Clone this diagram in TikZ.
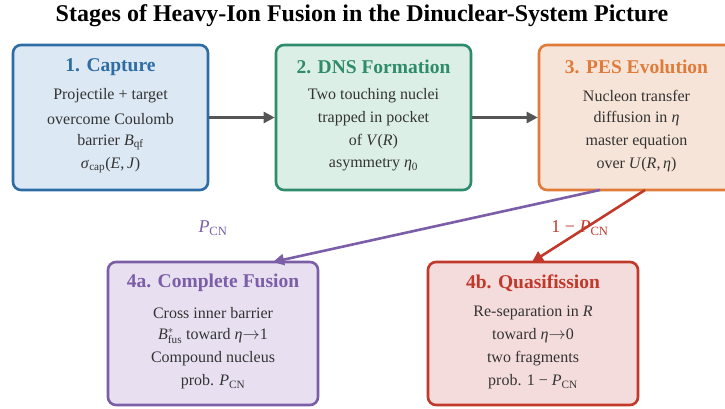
\documentclass[tikz,border=0pt]{standalone}
\usepackage{fontspec}
\setmainfont{Liberation Serif}
\usetikzlibrary{arrows.meta}
\definecolor{txt}{HTML}{333333}
\definecolor{cblue}{HTML}{2E6DA4}\definecolor{fblue}{HTML}{DCE8F3}
\definecolor{cgreen}{HTML}{2E8B6B}\definecolor{fgreen}{HTML}{DCEFE6}
\definecolor{corange}{HTML}{E07B39}\definecolor{forange}{HTML}{F6E4D8}
\definecolor{cpurple}{HTML}{7B5EA7}\definecolor{fpurple}{HTML}{E8E0F0}
\definecolor{cred}{HTML}{C0392B}\definecolor{fred}{HTML}{F5DCDC}
\definecolor{carrow}{HTML}{555555}
\newcommand{\toarr}{$\mathord{\rightarrow}$}
\tikzset{
  stagebox/.style={draw=#1, line width=2.6pt, rounded corners=8pt, minimum width=195pt, minimum height=145pt, inner sep=0pt},
  widebox/.style={stagebox=#1, minimum width=210pt, minimum height=143pt},
  boxtitle/.style={text=#1, font=\fontsize{19.5}{22}\selectfont\bfseries, inner sep=0pt, anchor=center},
  bodyline/.style={text=txt, font=\fontsize{16}{19}\selectfont, inner sep=0pt, anchor=center},
  flow/.style={line width=2.6pt, draw=#1, -{Triangle[length=11pt,width=11pt]}},
  problabel/.style={text=#1, font=\fontsize{18}{21}\selectfont, inner sep=0pt}
}
\begin{document}
\begin{tikzpicture}[x=1pt,y=-1pt]
\useasboundingbox (0,0) rectangle (725,409);
\node[font=\fontsize{24}{28}\selectfont\bfseries, inner sep=0pt] (title) at (362,16) {Stages of Heavy-Ion Fusion in the Dinuclear-System Picture};

% row 1
\node[stagebox=cblue, fill=fblue] (b1) at (110.5,117.5) {};
\node[boxtitle=cblue] (t1) at (110.5,67) {1. Capture};
\node[bodyline] (l11) at (110.5,96) {Projectile + target};
\node[bodyline] (l12) at (110.5,119) {overcome Coulomb};
\node[bodyline] (l13) at (110.5,142) {barrier \textit{B}\textsubscript{qf}};
\node[bodyline] (l14) at (110.5,165) {\textit{σ}\textsubscript{cap}(\textit{E},\,\textit{J})};

\node[stagebox=cgreen, fill=fgreen] (b2) at (373.5,117.5) {};
\node[boxtitle=cgreen] (t2) at (373.5,67) {2. DNS Formation};
\node[bodyline] (l21) at (373.5,96) {Two touching nuclei};
\node[bodyline] (l22) at (373.5,119) {trapped in pocket};
\node[bodyline] (l23) at (373.5,142) {of \textit{V}(\textit{R})};
\node[bodyline] (l24) at (373.5,165) {asymmetry \textit{η}\textsubscript{0}};

\node[stagebox=corange, fill=forange] (b3) at (636.5,117.5) {};
\node[boxtitle=corange] (t3) at (636.5,67) {3. PES Evolution};
\node[bodyline] (l31) at (636.5,96) {Nucleon transfer};
\node[bodyline] (l32) at (636.5,119) {diffusion in \textit{η}};
\node[bodyline] (l33) at (636.5,142) {master equation};
\node[bodyline] (l34) at (636.5,165) {over \textit{U}(\textit{R},\,\textit{η})};

% row 2
\node[widebox=cpurple, fill=fpurple] (b4a) at (213,333.5) {};
\node[boxtitle=cpurple] (t4a) at (213,283) {4a. Complete Fusion};
\node[bodyline] (l41) at (213,313) {Cross inner barrier};
\node[bodyline] (l42) at (213,336) {$\mathit{B}^{*}_{\mathrm{fus}}$ toward \textit{η}\toarr 1};
\node[bodyline] (l43) at (213,359) {Compound nucleus};
\node[bodyline] (l44) at (213,382) {prob. \textit{P}\textsubscript{CN}};

\node[widebox=cred, fill=fred] (b4b) at (533,333.5) {};
\node[boxtitle=cred] (t4b) at (533,283) {4b. Quasifission};
\node[bodyline] (l51) at (533,313) {Re-separation in \textit{R}};
\node[bodyline] (l52) at (533,336) {toward \textit{η}\toarr 0};
\node[bodyline] (l53) at (533,359) {two fragments};
\node[bodyline] (l54) at (533,382) {prob. 1 − \textit{P}\textsubscript{CN}};

% connectors
\draw[flow=carrow] (b1.east) -- (b2.west);
\draw[flow=carrow] (b2.east) -- (b3.west);
\coordinate (s4a) at (600,190);
\coordinate (e4a) at (273,262);
\coordinate (s4b) at (645,190);
\coordinate (e4b) at (532,262);
\draw[flow=cpurple] (s4a) -- (e4a);
\draw[flow=cred] (s4b) -- (e4b);
\node[problabel=cpurple] (pcn) at (213,228) {\textit{P}\textsubscript{CN}};
\node[problabel=cred] (qcn) at (580,228) {1 − \textit{P}\textsubscript{CN}};
\end{tikzpicture}
\end{document}
